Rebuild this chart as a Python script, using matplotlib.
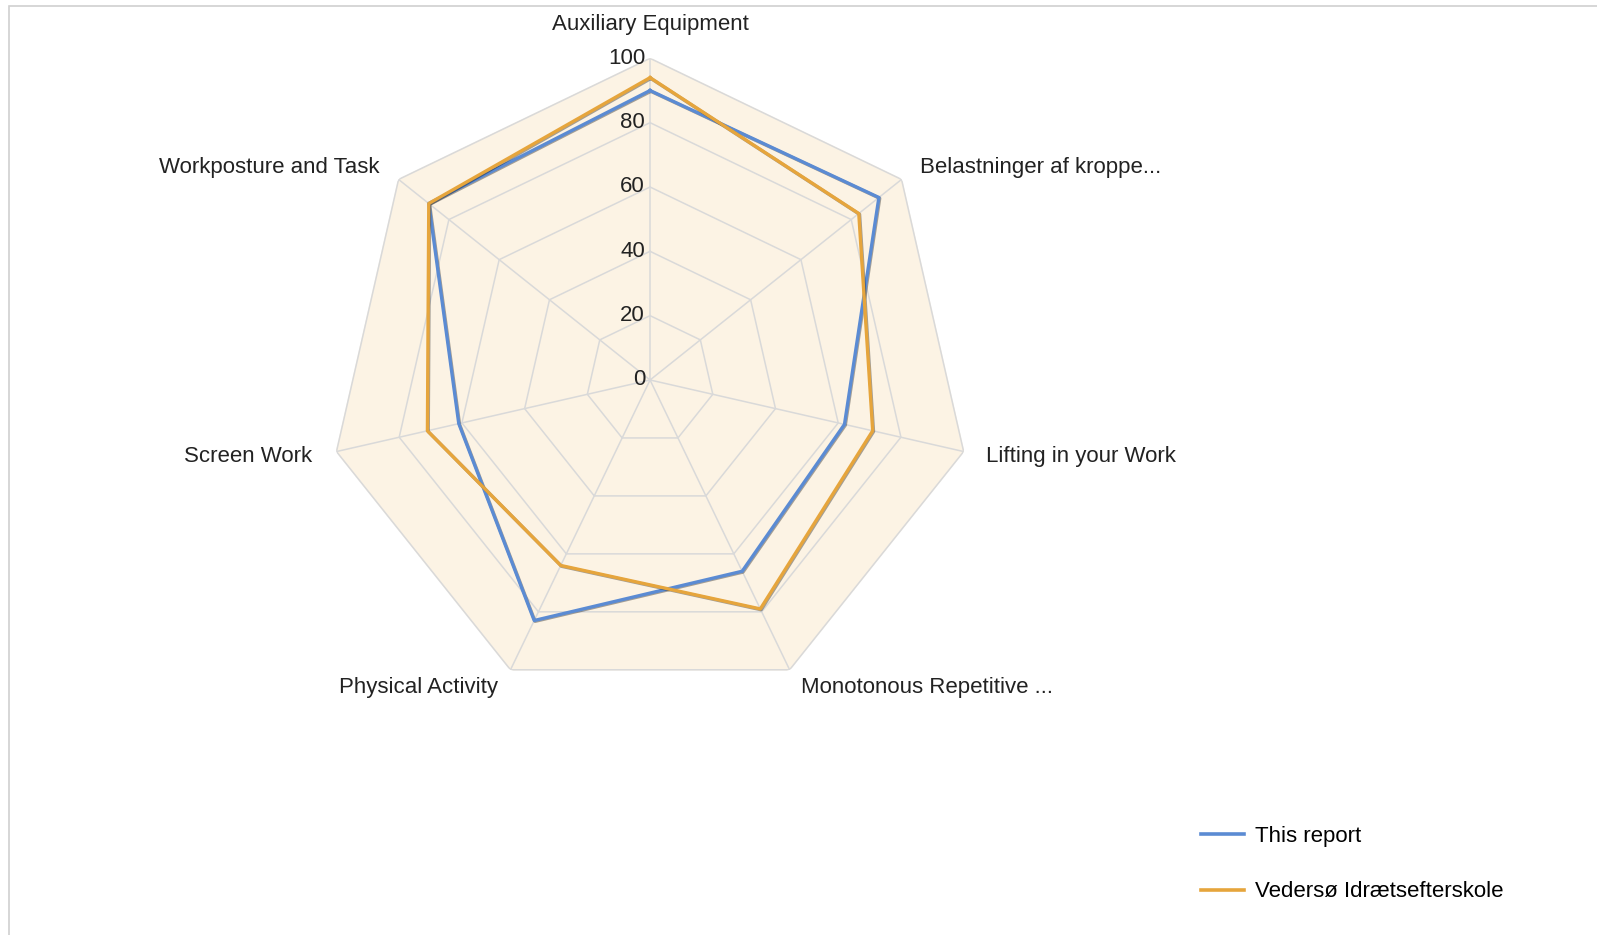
import matplotlib.pyplot as plt
import matplotlib.patheffects as pe
import numpy as np

categories = ["Auxiliary Equipment", "Belastninger af kroppe...", "Lifting in your Work",
              "Monotonous Repetitive ...", "Physical Activity", "Screen Work",
              "Workposture and Task"]
this_report = [90, 91, 62, 66, 83, 61, 88]
school = [94, 83, 71, 79, 64, 71, 88]
series_names = ["This report", "Vedersø Idrætsefterskole"]
ticks = [0, 20, 40, 60, 80, 100]

# label offsets in pixels from the 100-vertex (dx, dy, ha)
label_pos = [(0, 34, "center"), (18, 12, "left"), (22, -5, "left"), (11, -18, "left"),
             (-13, -18, "right"), (-24, -5, "right"), (-19, 12, "right")]

blue = "#5b8bd3"
orange = "#e6a53c"
grid_c = "#d9d9d9"
fill_c = "#fcf3e4"

plt.rcParams["font.family"] = ["Liberation Sans", "DejaVu Sans"]

fig = plt.figure(figsize=(15.97, 9.35), dpi=100)

# light border around the chart area
fig.add_artist(plt.Rectangle((9 / 1597, -0.1), 1.2, 1 - 6 / 935 + 0.1, transform=fig.transFigure,
                             fill=False, edgecolor="#d0d0d0", lw=1.2))

ax = fig.add_axes([0.2056, 0.2496, 0.4029, 0.688], projection="polar")
ax.set_theta_offset(np.pi / 2)
ax.set_theta_direction(-1)
ax.set_ylim(0, 100)
ax.axis("off")

n = len(categories)
theta = np.arange(n) * 2 * np.pi / n
theta_c = np.append(theta, theta[0])

# background and grid
ax.fill(theta_c, [100] * (n + 1), color=fill_c, zorder=0)
for t in ticks[1:]:
    ax.plot(theta_c, [t] * (n + 1), color=grid_c, lw=1.1, zorder=1)
for th in theta:
    ax.plot([th, th], [0, 100], color=grid_c, lw=1.1, zorder=1)

shadow = [pe.SimpleLineShadow(offset=(0.6, -0.6), shadow_color="k", alpha=0.35), pe.Normal()]
for vals, col, name in [(this_report, blue, series_names[0]), (school, orange, series_names[1])]:
    v = np.append(vals, vals[0])
    ax.plot(theta_c, v, color=col, lw=2.4, label=name, zorder=3, path_effects=shadow)

for t in ticks:
    ax.annotate(str(t), xy=(0, t), xytext=(-5, 0), textcoords="offset pixels",
                ha="right", va="center", fontsize=16, color="#222222")

for th, lab, (dx, dy, ha) in zip(theta, categories, label_pos):
    ax.annotate(lab, xy=(th, 100), xytext=(dx, dy), textcoords="offset pixels",
                ha=ha, va="center", fontsize=16, color="#222222")

leg = fig.legend(loc="upper left", bbox_to_anchor=(1181 / 1597, 1 - 806 / 935),
                 frameon=False, fontsize=16, handlelength=1.95, labelspacing=1.55,
                 handletextpad=0.5)
for line in leg.get_lines():
    line.set_path_effects([])
    line.set_linewidth(2.6)

fig.savefig("out.png", dpi=100)
